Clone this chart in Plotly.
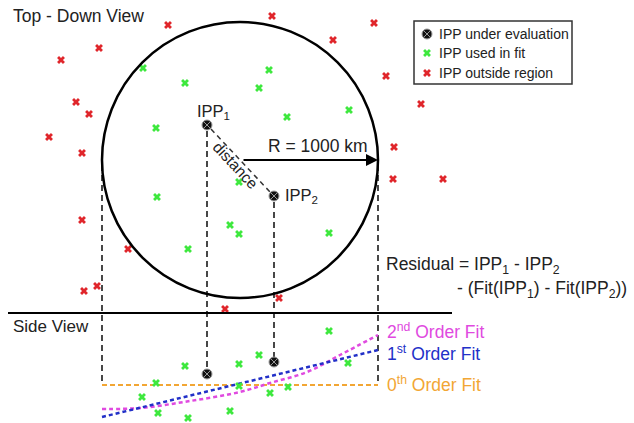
import plotly.graph_objects as go

# ---------------- data (diagram units = pixel positions of the reference) ----------------
circle_center = (240, 160)
circle_radius = 138

ipp_x = [207, 274]
ipp_top_y = [125, 196]
ipp_side_y = [374, 362]

fit_top_x = [143, 185, 269, 259, 287, 156, 239, 157, 349, 230, 239, 188, 329]
fit_top_y = [68, 83, 70, 88, 117, 128, 182, 197, 110, 225, 234, 249, 233]

out_x = [168, 272, 99, 61, 76, 89, 49, 82, 374, 333, 386, 421, 394, 393, 443, 82, 128, 84, 97, 225, 279]
out_y = [25, 16, 48, 60, 102, 114, 137, 153, 23, 40, 76, 104, 147, 179, 179, 220, 249, 291, 286, 309, 298]

side_x = [185, 239, 259, 329, 348, 156, 142, 158, 188, 230, 239, 270, 288]
side_y = [366, 364, 355, 331, 363, 383, 397, 413, 418, 411, 386, 393, 387]

fit_x_ends = [102, 378]
fit0_y = [385, 385]
fit1_y = [417, 350]
fit2_x = [102, 140, 190, 240, 270, 307, 340, 378]
fit2_y = [409, 408, 401, 392, 383, 372, 355, 335]

legend_labels = ["IPP under evaluation", "IPP used in fit", "IPP outside region"]
fit_labels = ["2<sup>nd</sup> Order Fit", "1<sup>st</sup> Order Fit", "0<sup>th</sup> Order Fit"]

# ---------------- styles ----------------
FONT = "Liberation Sans, Arial, sans-serif"
TXT = "#222222"
GREEN = "#3ee83e"
RED = "#e0262b"
MAGENTA = "#e04ae0"
BLUE = "#2230c8"
ORANGE = "#f2a634"
DASHGRAY = "#333333"

fig = go.Figure()

# legend box (drawn below the traces)
leg_box = (414, 21, 572, 84)
leg_sym_x = 427
leg_rows_y = [34, 53, 73]
fig.add_shape(type="rect", x0=leg_box[0], y0=leg_box[1], x1=leg_box[2], y1=leg_box[3],
              xref="x", yref="y", layer="below",
              line=dict(color="#333333", width=1.5), fillcolor="white")

# dashed projection lines
proj = [
    (102, 165, 102, 385),
    (ipp_x[0], ipp_top_y[0] + 6, ipp_x[0], ipp_side_y[0] - 5),
    (ipp_x[1], ipp_top_y[1] + 6, ipp_x[1], ipp_side_y[1] - 5),
    (378, 165, 378, 385),
]
for x0, y0, x1, y1 in proj:
    fig.add_trace(go.Scatter(x=[x0, x1], y=[y0, y1], mode="lines",
                             line=dict(color=DASHGRAY, width=1.8, dash="6px,4px"),
                             hoverinfo="skip", showlegend=False))

# distance dimension dashed line
fig.add_trace(go.Scatter(x=[ipp_x[0] + 4, ipp_x[1] - 4], y=[ipp_top_y[0] + 4, ipp_top_y[1] - 4],
                         mode="lines", line=dict(color=DASHGRAY, width=1.5, dash="5px,4px"),
                         hoverinfo="skip", showlegend=False))

# fit lines
fig.add_trace(go.Scatter(x=fit_x_ends, y=fit0_y, mode="lines",
                         line=dict(color=ORANGE, width=2, dash="5px,3px"),
                         hoverinfo="skip", showlegend=False))
fig.add_trace(go.Scatter(x=fit2_x, y=fit2_y, mode="lines", line_shape="spline",
                         line=dict(color=MAGENTA, width=2.5, dash="4px,3px"),
                         hoverinfo="skip", showlegend=False))
fig.add_trace(go.Scatter(x=fit_x_ends, y=fit1_y, mode="lines",
                         line=dict(color=BLUE, width=2.5, dash="4px,3px"),
                         hoverinfo="skip", showlegend=False))

# points
fig.add_trace(go.Scatter(x=fit_top_x + side_x, y=fit_top_y + side_y, mode="markers",
                         marker=dict(symbol="x", size=7, color=GREEN, line=dict(width=0)),
                         hoverinfo="skip", showlegend=False))
fig.add_trace(go.Scatter(x=out_x, y=out_y, mode="markers",
                         marker=dict(symbol="x", size=7, color=RED, line=dict(width=0)),
                         hoverinfo="skip", showlegend=False))
fig.add_trace(go.Scatter(x=ipp_x + ipp_x, y=ipp_top_y + ipp_side_y, mode="markers",
                         marker=dict(symbol="circle-x", size=10, color="#111111",
                                     line=dict(color="#9a9a9a", width=1)),
                         hoverinfo="skip", showlegend=False))

# legend symbols and labels
fig.add_trace(go.Scatter(x=[leg_sym_x], y=[leg_rows_y[0]], mode="markers",
                         marker=dict(symbol="circle-x", size=10, color="#111111",
                                     line=dict(color="#9a9a9a", width=1)),
                         hoverinfo="skip", showlegend=False))
fig.add_trace(go.Scatter(x=[leg_sym_x], y=[leg_rows_y[1]], mode="markers",
                         marker=dict(symbol="x", size=7, color=GREEN, line=dict(width=0)),
                         hoverinfo="skip", showlegend=False))
fig.add_trace(go.Scatter(x=[leg_sym_x], y=[leg_rows_y[2]], mode="markers",
                         marker=dict(symbol="x", size=7, color=RED, line=dict(width=0)),
                         hoverinfo="skip", showlegend=False))
for lab, yy in zip(legend_labels, leg_rows_y):
    fig.add_annotation(x=437, y=yy, text=lab, showarrow=False, xanchor="left", yanchor="middle",
                       font=dict(family=FONT, size=14, color=TXT))

# circle and divider
cx, cy = circle_center
fig.add_shape(type="circle", xref="x", yref="y",
              x0=cx - circle_radius, x1=cx + circle_radius,
              y0=cy - circle_radius, y1=cy + circle_radius,
              line=dict(color="black", width=2.5))
fig.add_shape(type="line", xref="x", yref="y", x0=8, x1=452, y0=313, y1=313,
              line=dict(color="black", width=2))

# radius arrow
fig.add_annotation(x=cx + circle_radius, y=cy, ax=cx + 2, ay=cy, xref="x", yref="y",
                   axref="x", ayref="y", showarrow=True, arrowhead=2, arrowsize=1.2,
                   arrowwidth=2, arrowcolor="black", text="")
fig.add_annotation(x=266, y=146, text="R = 1000 km", showarrow=False, xanchor="left",
                   yanchor="middle", font=dict(family=FONT, size=17.5, color=TXT))

# texts
def txt(x, y, s, size, color=TXT, angle=0, xanchor="left"):
    fig.add_annotation(x=x, y=y, text=s, showarrow=False, xanchor=xanchor, yanchor="middle",
                       textangle=angle, font=dict(family=FONT, size=size, color=color))

txt(11, 16, "Top - Down View", 17.5)
txt(11, 326, "Side View", 17)
txt(195, 112, "IPP<sub>1</sub>", 16.5)
txt(283, 196, "IPP<sub>2</sub>", 16.5)
txt(236, 165, "distance", 15.5, angle=47, xanchor="center")
txt(384, 265, "Residual = IPP<sub>1</sub> - IPP<sub>2</sub>", 17.5)
txt(455, 289, "- (Fit(IPP<sub>1</sub>) - Fit(IPP<sub>2</sub>))", 17.5)
txt(385, 331, fit_labels[0], 17.5, MAGENTA)
txt(385, 353, fit_labels[1], 17.5, BLUE)
txt(385, 384, fit_labels[2], 17.5, ORANGE)

fig.update_layout(
    width=634, height=423, margin=dict(l=0, r=0, t=0, b=0),
    paper_bgcolor="white", plot_bgcolor="white", showlegend=False,
    xaxis=dict(range=[0, 634], visible=False, fixedrange=True),
    yaxis=dict(range=[423, 0], visible=False, fixedrange=True),
)

fig.write_html("out.html")
